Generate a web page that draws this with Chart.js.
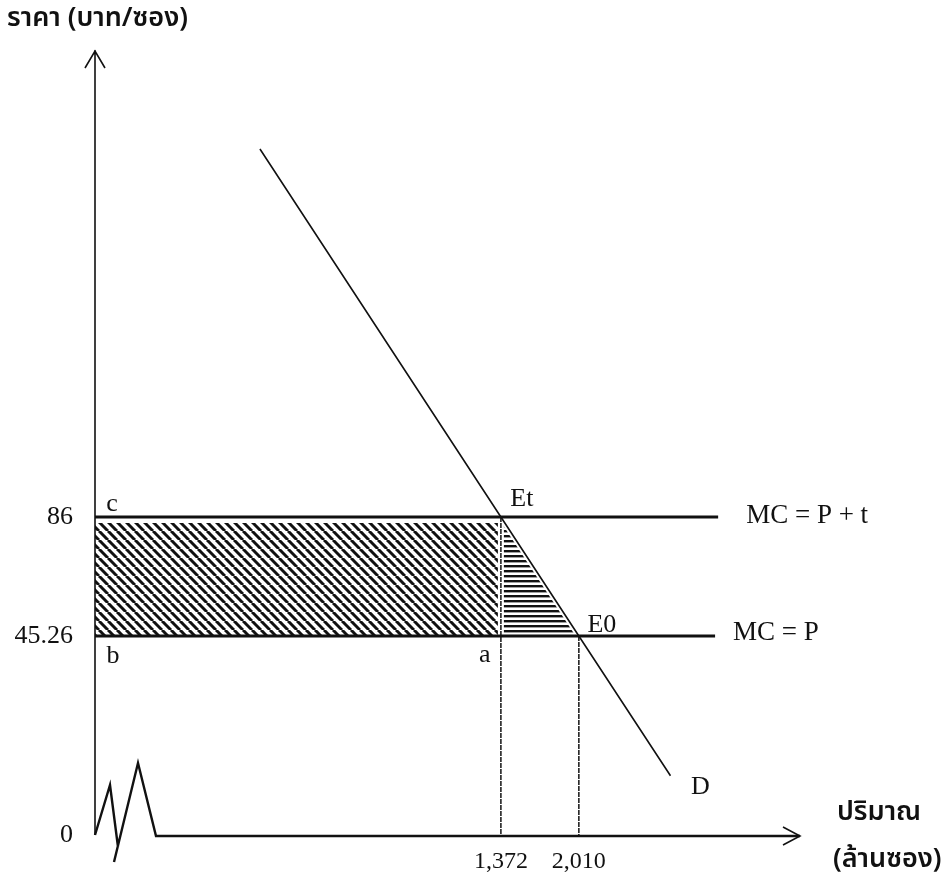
<!DOCTYPE html>
<html>
<head>
<meta charset="utf-8">
<script src="https://cdn.jsdelivr.net/npm/chart.js@4.4.1/dist/chart.umd.min.js"></script>
<style>
body{margin:0;background:#fff;}
</style>
</head>
<body>
<canvas id="chart" width="952" height="886"></canvas>
<script>
// quantity (million packs) and price (baht per pack); the axes are broken near the origin
let qRange = [-1950, 3820];
let pRange = [-22.9, 245.9];
let qTicks = [1372, 2010];
let qTickLabels = ["1,372", "2,010"];
let pTicks = [-22.9, 45.26, 86];
let pTickLabels = ["0", "45.26", "86"];

let priceTax = 86;
let priceBase = 45.26;
let qTax = 1372;
let qBase = 2010;

let demandQ = [-600, 1372, 2010, 2760];
let demandP = [212, 86, 45.26, -2.6];
let mcLineEnd = [3150, 3125];

let serif = "'Liberation Serif', 'Times New Roman', serif";
let thai = "'Noto Sans Thai', Tahoma, 'DejaVu Sans', sans-serif";
let ink = "#111";

window.onload = run;

function pts(xs, ys){
	let out = [];
	for(let i = 0; i < xs.length; i++)out[out.length] = {x: xs[i], y: ys[i]};
	return out;
}

function makePattern(ctx, w, h, draw){
	let c = document.createElement("canvas");
	c.width = w;
	c.height = h;
	let g = c.getContext("2d");
	g.fillStyle = "#fff";
	g.fillRect(0, 0, w, h);
	g.strokeStyle = ink;
	g.fillStyle = ink;
	draw(g);
	return ctx.createPattern(c, "repeat");
}

function line(data, color, width, dash){
	return {
		data: data,
		showLine: true,
		borderColor: color,
		borderWidth: width,
		borderDash: dash || [],
		pointRadius: 0,
		fill: false
	};
}

function run(){
	let ctx = document.getElementById("chart").getContext("2d");

	let diag = makePattern(ctx, 9, 9, function(g){
		g.lineWidth = 3;
		for(let k = -9; k <= 9; k += 9){
			g.beginPath();
			g.moveTo(k, 0);
			g.lineTo(k + 9, 9);
			g.stroke();
		}
	});
	let horiz = makePattern(ctx, 4, 5, function(g){
		g.fillRect(0, 0, 4, 2.4);
	});

	let rectFill = line(pts([qRange[0], qTax], [priceTax, priceTax]), "rgba(0,0,0,0)", 0);
	rectFill.fill = {value: priceBase};
	rectFill.backgroundColor = diag;
	let triFill = line(pts([qTax, qBase], [priceTax, priceBase]), "rgba(0,0,0,0)", 0);
	triFill.fill = {value: priceBase};
	triFill.backgroundColor = horiz;

	let dataSets = [
		line(pts(demandQ, demandP), ink, 1.6),
		line(pts([qRange[0], mcLineEnd[0]], [priceTax, priceTax]), ink, 3),
		line(pts([qRange[0], mcLineEnd[1]], [priceBase, priceBase]), ink, 3),
		line(pts([qTax, qTax], [priceTax, pRange[0]]), "#222", 1.6, [5, 1]),
		line(pts([qBase, qBase], [priceBase, pRange[0]]), "#222", 1.6, [5, 1]),
		line(pts([qRange[0], qTax], [priceTax, priceTax]), "#fff", 12),
		line(pts([qTax, qTax], [priceTax, priceBase]), "#fff", 6),
		line(pts([qTax, qBase], [priceTax, priceBase]), "#fff", 5.5),
		triFill,
		rectFill
	];

	let diagram = {
		id: "diagram",
		afterDraw: function(chart){
			let c = chart.ctx;
			let xs = chart.scales.x;
			let ys = chart.scales.y;
			let ox = xs.getPixelForValue(qRange[0]);
			let oy = ys.getPixelForValue(pRange[0]);
			let top = ys.getPixelForValue(pRange[1]);
			let right = xs.getPixelForValue(qRange[1]);
			c.save();
			c.strokeStyle = ink;
			c.lineJoin = "miter";
			c.lineWidth = 1.6;
			// price axis with arrow
			c.beginPath();
			c.moveTo(ox, oy);
			c.lineTo(ox, top);
			c.moveTo(ox - 10, top + 18);
			c.lineTo(ox, top + 1);
			c.lineTo(ox + 10, top + 18);
			c.stroke();
			// axis break and quantity axis with arrow
			c.lineWidth = 2.4;
			c.beginPath();
			c.moveTo(ox, oy);
			c.lineTo(ox + 15, oy - 50);
			c.lineTo(ox + 23, oy + 12);
			c.moveTo(ox + 19, oy + 27);
			c.lineTo(ox + 43, oy - 72);
			c.lineTo(ox + 61, oy + 1);
			c.lineTo(right, oy + 1);
			c.stroke();
			c.lineWidth = 1.6;
			c.beginPath();
			c.moveTo(right - 17, oy - 8);
			c.lineTo(right, oy + 1);
			c.lineTo(right - 17, oy + 10);
			c.stroke();

			c.fillStyle = ink;
			c.textBaseline = "middle";
			c.textAlign = "center";
			c.font = "26px " + serif;
			let tag = function(text, q, p, dx, dy){
				c.fillText(text, xs.getPixelForValue(q) + dx, ys.getPixelForValue(p) + dy);
			};
			tag("c", qRange[0], priceTax, 17, -13);
			tag("b", qRange[0], priceBase, 18, 20);
			tag("a", qTax, priceBase, -16, 19);
			tag("Et", qTax, priceTax, 21, -18);
			tag("E0", qBase, priceBase, 23, -11);
			tag("D", demandQ[3], demandP[3], 30, 11);
			c.textAlign = "left";
			c.font = "27px " + serif;
			tag("MC = P + t", mcLineEnd[0], priceTax, 28, -1);
			tag("MC = P", mcLineEnd[1], priceBase, 18, -3);

			c.font = "600 27px " + thai;
			c.fillText("ราคา (บาท/ซอง)", 7, 21);
			c.fillText("ปริมาณ", 837, 815);
			c.fillText("(ล้านซอง)", 833, 862);
			c.restore();
		}
	};

	new Chart(ctx, {
		type: "scatter",
		data: {datasets: dataSets},
		options: {
			responsive: false,
			animation: false,
			layout: {padding: {top: 50, right: 152, left: 0, bottom: 0}},
			plugins: {legend: {display: false}, tooltip: {enabled: false}},
			scales: {
				x: {
					type: "linear",
					min: qRange[0],
					max: qRange[1],
					grid: {display: false, drawTicks: false},
					border: {display: false},
					afterBuildTicks: function(scale){
						scale.ticks = qTicks.map(function(v){ return {value: v}; });
					},
					afterFit: function(scale){ scale.height = 51; },
					ticks: {
						color: ink,
						padding: 12,
						maxRotation: 0,
						font: {family: serif, size: 24},
						callback: function(v, i){ return qTickLabels[i]; }
					}
				},
				y: {
					type: "linear",
					min: pRange[0],
					max: pRange[1],
					grid: {display: false, drawTicks: false},
					border: {display: false},
					afterBuildTicks: function(scale){
						scale.ticks = pTicks.map(function(v){ return {value: v}; });
					},
					afterFit: function(scale){ scale.width = 95; },
					ticks: {
						color: ink,
						padding: 22,
						font: {family: serif, size: 26},
						callback: function(v, i){ return pTickLabels[i]; }
					}
				}
			}
		},
		plugins: [diagram]
	});
}
</script>
</body>
</html>
